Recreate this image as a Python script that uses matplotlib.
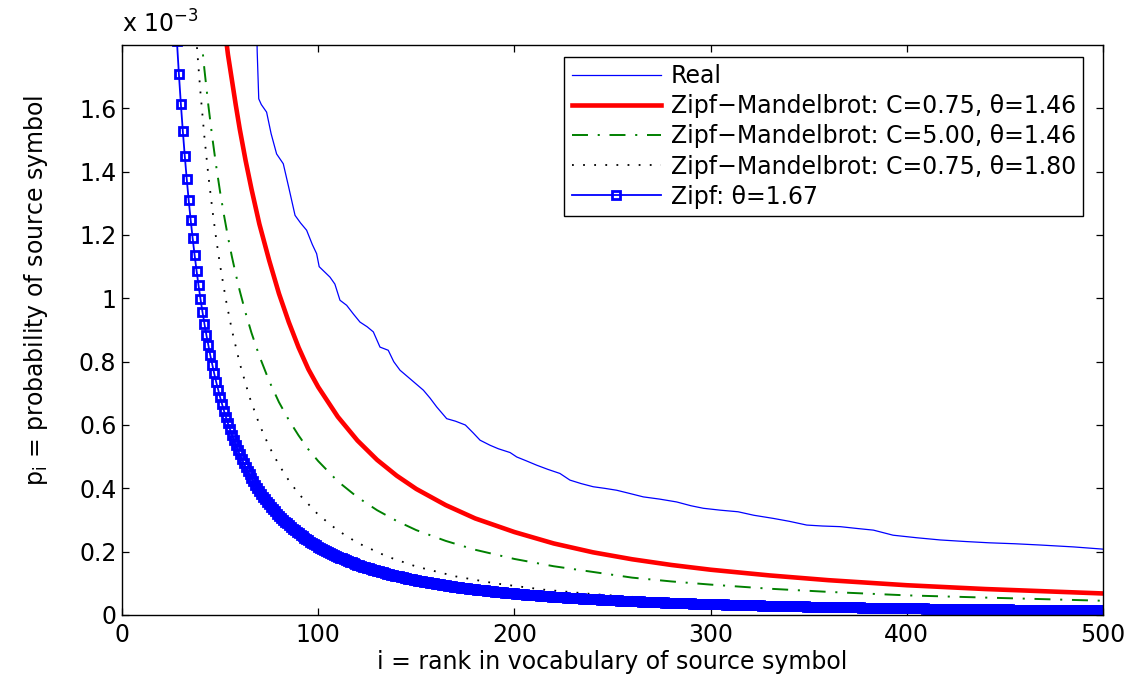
import matplotlib
matplotlib.use('Agg')
import matplotlib.pyplot as plt

plt.rcParams['font.family'] = ['DejaVu Sans']
plt.rcParams['mathtext.fontset'] = 'dejavusans'
plt.rcParams['lines.scale_dashes'] = False

# ---------------- data (probabilities in units of 1e-3) ----------------
real_rank = [68.4, 68.9, 69.7, 71.0, 73.7, 76.0, 78.8, 82.2, 85.0, 88.2,
             91.0, 94.1, 97.0, 99.2, 100.5, 103.0, 106.0, 108.5, 111.1, 114.5,
             118.0, 121.3, 125.0, 128.1, 131.5, 135.7, 138.5, 141.7, 147.0, 153.6,
             157.0, 160.4, 165.5, 170.0, 175.0, 179.0, 182.5, 187.6, 191.8, 197.8,
             201.2, 206.0, 211.4, 217.0, 223.2, 228.3, 234.0, 240.2, 246.0, 252.1,
             258.0, 265.7, 274.0, 282.7, 290.0, 296.3, 305.0, 314.0, 322.0, 332.0,
             340.0, 349.0, 357.0, 366.0, 375.0, 383.0, 393.0, 405.0, 417.0, 430.0,
             442.0, 455.0, 468.0, 485.0, 500.0]
real_p = [1.95, 1.78, 1.63, 1.612, 1.588, 1.52, 1.456, 1.425, 1.35, 1.262,
          1.238, 1.215, 1.17, 1.141, 1.10, 1.085, 1.067, 1.045, 0.994, 0.978,
          0.95, 0.925, 0.91, 0.894, 0.846, 0.836, 0.80, 0.773, 0.745, 0.710,
          0.685, 0.657, 0.620, 0.612, 0.600, 0.575, 0.552, 0.536, 0.525, 0.513,
          0.499, 0.487, 0.473, 0.460, 0.447, 0.426, 0.415, 0.405, 0.400, 0.394,
          0.385, 0.373, 0.366, 0.357, 0.345, 0.337, 0.331, 0.326, 0.315, 0.305,
          0.296, 0.284, 0.281, 0.279, 0.273, 0.268, 0.252, 0.244, 0.237, 0.232,
          0.228, 0.225, 0.221, 0.215, 0.208]

zm1_rank = [50, 52, 54, 56, 58, 60, 63, 66, 70, 75, 80, 85, 90, 95, 100, 110,
            120, 130, 140, 150, 165, 180, 200, 220, 240, 260, 280, 300, 330,
            360, 400, 440, 470, 500]
zm1_p = [1.981, 1.871, 1.770, 1.69, 1.61, 1.535, 1.435, 1.345, 1.235, 1.12,
         1.015, 0.925, 0.845, 0.776, 0.720, 0.626, 0.551, 0.490, 0.440, 0.398,
         0.347, 0.305, 0.262, 0.226, 0.198, 0.176, 0.158, 0.143, 0.125, 0.110,
         0.094, 0.082, 0.075, 0.068]

zm2_rank = [40, 42, 44, 46, 48, 50, 52, 54, 56, 58, 60, 63, 66, 70, 75, 80, 85,
            90, 95, 100, 110, 120, 130, 140, 150, 165, 180, 200, 220, 240, 260,
            280, 300, 330, 360, 400, 440, 470, 500]
zm2_p = [1.851, 1.723, 1.610, 1.509, 1.418, 1.336, 1.262, 1.194, 1.132, 1.076,
         1.024, 0.954, 0.891, 0.818, 0.739, 0.672, 0.616, 0.567, 0.523, 0.486,
         0.422, 0.372, 0.331, 0.297, 0.268, 0.234, 0.206, 0.177, 0.154, 0.136,
         0.118, 0.106, 0.096, 0.083, 0.073, 0.062, 0.055, 0.050, 0.045]

zm3_rank = [37, 38, 40, 42, 44, 46, 48, 50, 53, 56, 60, 65, 70, 75, 80, 85, 90,
            100, 110, 120, 135, 150, 170, 190, 215, 240, 270, 300, 340, 380,
            420, 460, 500]
zm3_p = [1.898, 1.809, 1.649, 1.510, 1.389, 1.283, 1.188, 1.104, 0.994, 0.900,
         0.795, 0.688, 0.602, 0.532, 0.474, 0.425, 0.383, 0.317, 0.267, 0.228,
         0.185, 0.153, 0.122, 0.100, 0.080, 0.066, 0.053, 0.044, 0.035, 0.029,
         0.024, 0.020, 0.018]

# Zipf, one value per rank starting at rank 27
zipf_p = [
    1.9246, 1.8111, 1.7080, 1.6140, 1.5280, 1.4491, 1.3764, 1.3094, 1.2477, 1.1904,
    1.1371, 1.0875, 1.0413, 0.9982,
    0.9579, 0.9201, 0.8847, 0.8514, 0.8200, 0.7905, 0.7627, 0.7362, 0.7114, 0.6878,
    0.6654, 0.6442, 0.6240, 0.6048, 0.5866, 0.5691, 0.5525, 0.5368, 0.5217, 0.5072,
    0.4934, 0.4802, 0.4675, 0.4553, 0.4437, 0.4325, 0.4219, 0.4115, 0.4016, 0.3921,
    0.3829, 0.3740, 0.3655, 0.3573, 0.3494, 0.3418, 0.3344, 0.3273, 0.3204, 0.3137,
    0.3073, 0.3010, 0.2950, 0.2892, 0.2835, 0.2780, 0.2727, 0.2676, 0.2626, 0.2577,
    0.2530, 0.2484, 0.2440, 0.2397, 0.2355, 0.2314, 0.2274, 0.2235, 0.2198, 0.2161,
    0.2125, 0.2091, 0.2057, 0.2024, 0.1992, 0.1961, 0.1930, 0.1900, 0.1871, 0.1843,
    0.1815, 0.1788, 0.1762, 0.1736, 0.1711, 0.1686, 0.1662, 0.1639, 0.1616, 0.1594,
    0.1572, 0.1551, 0.1529, 0.1509, 0.1489, 0.1469, 0.1450, 0.1431, 0.1412, 0.1395,
    0.1377, 0.1360, 0.1343, 0.1326, 0.1310, 0.1294, 0.1278, 0.1262, 0.1247, 0.1232,
    0.1217, 0.1203, 0.1189, 0.1175, 0.1162, 0.1148, 0.1135, 0.1122, 0.1110, 0.1098,
    0.1086, 0.1074, 0.1062, 0.1051, 0.1039, 0.1028, 0.1017, 0.1006, 0.0996, 0.0986,
    0.0976, 0.0966, 0.0956, 0.0946, 0.0936, 0.0927, 0.0917, 0.0908, 0.0899, 0.0891,
    0.0882, 0.0873, 0.0865, 0.0856, 0.0848, 0.0840, 0.0832, 0.0824, 0.0817, 0.0810,
    0.0802, 0.0795, 0.0788, 0.0781, 0.0774, 0.0767, 0.0760, 0.0753, 0.0746, 0.0740,
    0.0734, 0.0727, 0.0721, 0.0715, 0.0709, 0.0703, 0.0697, 0.0691, 0.0685, 0.0679,
    0.0673, 0.0668, 0.0662, 0.0657, 0.0652, 0.0646, 0.0641, 0.0636, 0.0631, 0.0626,
    0.0621, 0.0616, 0.0611, 0.0607, 0.0602, 0.0597, 0.0593, 0.0588, 0.0584, 0.0579,
    0.0575, 0.0571, 0.0566, 0.0562, 0.0558, 0.0554, 0.0550, 0.0546, 0.0542, 0.0538,
    0.0534, 0.0530, 0.0527, 0.0523, 0.0519, 0.0515, 0.0512, 0.0508, 0.0505, 0.0501,
    0.0498, 0.0494, 0.0491, 0.0488, 0.0484, 0.0481, 0.0478, 0.0475, 0.0471, 0.0468,
    0.0465, 0.0462, 0.0459, 0.0456, 0.0453, 0.0450, 0.0447, 0.0444, 0.0441, 0.0438,
    0.0435, 0.0433, 0.0430, 0.0427, 0.0424, 0.0422, 0.0419, 0.0416, 0.0414, 0.0411,
    0.0409, 0.0406, 0.0404, 0.0401, 0.0399, 0.0397, 0.0394, 0.0392, 0.0389, 0.0387,
    0.0385, 0.0383, 0.0380, 0.0378, 0.0376, 0.0374, 0.0372, 0.0369, 0.0367, 0.0365,
    0.0363, 0.0361, 0.0359, 0.0357, 0.0355, 0.0353, 0.0351, 0.0349, 0.0347, 0.0345,
    0.0343, 0.0341, 0.0340, 0.0338, 0.0336, 0.0334, 0.0332, 0.0331, 0.0329, 0.0327,
    0.0325, 0.0324, 0.0322, 0.0320, 0.0318, 0.0317, 0.0315, 0.0313, 0.0312, 0.0310,
    0.0308, 0.0307, 0.0305, 0.0304, 0.0302, 0.0300, 0.0299, 0.0297, 0.0296, 0.0294,
    0.0293, 0.0291, 0.0290, 0.0288, 0.0287, 0.0286, 0.0284, 0.0283, 0.0281, 0.0280,
    0.0279, 0.0277, 0.0276, 0.0275, 0.0273, 0.0272, 0.0271, 0.0269, 0.0268, 0.0267,
    0.0266, 0.0264, 0.0263, 0.0262, 0.0261, 0.0260, 0.0258, 0.0257, 0.0256, 0.0255,
    0.0254, 0.0253, 0.0251, 0.0250, 0.0249, 0.0248, 0.0247, 0.0245, 0.0244, 0.0243,
    0.0242, 0.0241, 0.0240, 0.0239, 0.0238, 0.0237, 0.0236, 0.0235, 0.0234, 0.0233,
    0.0232, 0.0231, 0.0230, 0.0229, 0.0228, 0.0227, 0.0226, 0.0225, 0.0224, 0.0223,
    0.0222, 0.0221, 0.0220, 0.0219, 0.0218, 0.0217, 0.0216, 0.0215, 0.0214, 0.0213,
    0.0212, 0.0211, 0.0211, 0.0210, 0.0209, 0.0208, 0.0207, 0.0207, 0.0206, 0.0205,
    0.0204, 0.0203, 0.0203, 0.0202, 0.0201, 0.0200, 0.0199, 0.0199, 0.0198, 0.0197,
    0.0196, 0.0195, 0.0195, 0.0194, 0.0193, 0.0192, 0.0191, 0.0191, 0.0190, 0.0189,
    0.0188, 0.0188, 0.0187, 0.0186, 0.0186, 0.0185, 0.0184, 0.0183, 0.0183, 0.0182,
    0.0181, 0.0181, 0.0180, 0.0179, 0.0179, 0.0178, 0.0177, 0.0177, 0.0176, 0.0175,
    0.0174, 0.0174, 0.0173, 0.0173, 0.0172, 0.0171, 0.0171, 0.0170, 0.0170, 0.0169,
    0.0168, 0.0168, 0.0167, 0.0167, 0.0166, 0.0165, 0.0165, 0.0164, 0.0164, 0.0163,
    0.0162, 0.0162, 0.0161, 0.0161, 0.0160, 0.0160, 0.0159, 0.0158, 0.0158, 0.0157,
    0.0157, 0.0156, 0.0156, 0.0155, 0.0155, 0.0154, 0.0154, 0.0153, 0.0153, 0.0152,
    0.0151, 0.0151, 0.0150, 0.0150, 0.0149, 0.0149, 0.0148, 0.0148, 0.0147, 0.0147,
]
zipf_rank = list(range(27, 27 + len(zipf_p)))

labels = ['Real',
          'Zipf\u2212Mandelbrot: C=0.75, \u03b8=1.46',
          'Zipf\u2212Mandelbrot: C=5.00, \u03b8=1.46',
          'Zipf\u2212Mandelbrot: C=0.75, \u03b8=1.80',
          'Zipf: \u03b8=1.67']

x_ticks = [0, 100, 200, 300, 400, 500]
y_ticks = [0, 0.2, 0.4, 0.6, 0.8, 1.0, 1.2, 1.4, 1.6]
y_tick_labels = ['0', '0.2', '0.4', '0.6', '0.8', '1', '1.2', '1.4', '1.6']

# ---------------- figure ----------------
W, H = 1131, 677
fig = plt.figure(figsize=(W / 100, H / 100), dpi=100)
ax = fig.add_axes([122 / W, (H - 615) / H, 981 / W, 570 / H])

FS = 17
ax.plot(real_rank, real_p, color='#0000ff', lw=0.9, label=labels[0])
ax.plot(zm1_rank, zm1_p, color='#ff0000', lw=3.3, label=labels[1])
ax.plot(zm2_rank, zm2_p, color='#008000', lw=1.4, dashes=(11.5, 7.0, 1.5, 7.0),
        label=labels[2])
ax.plot(zm3_rank, zm3_p, color='black', lw=1.3, dashes=(1.3, 6.7), label=labels[3])
ax.plot(zipf_rank, zipf_p, color='#0000ff', lw=1.3, marker='s', ms=5.6,
        mfc='none', mec='#0000ff', mew=2.0, label=labels[4])

ax.set_xlim(0, 500)
ax.set_ylim(0, 1.8)
ax.set_xticks(x_ticks)
ax.set_xticklabels([str(t) for t in x_ticks])
ax.set_yticks(y_ticks)
ax.set_yticklabels(y_tick_labels)
ax.tick_params(direction='in', length=5, width=0.9, top=True, right=True,
               labelsize=FS, colors='black')
ax.tick_params(axis='x', pad=6)
ax.tick_params(axis='y', pad=4)
for s in ax.spines.values():
    s.set_linewidth(1.0)
    s.set_color('black')

ax.set_xlabel('i = rank in vocabulary of source symbol', fontsize=FS)
ax.xaxis.set_label_coords(0.5, -0.062)
ax.set_ylabel(r'p$_\mathregular{i}$ = probability of source symbol', fontsize=FS)
ax.yaxis.set_label_coords(-0.073, 0.57)

fig.text(122 / W, 1 - 33 / H, r'x 10$^{-3}$', fontsize=FS, ha='left', va='baseline')

leg = ax.legend(loc='upper right', bbox_to_anchor=(1083 / W, 1 - 57 / H),
                bbox_transform=fig.transFigure, borderaxespad=0, fontsize=FS,
                frameon=True, fancybox=False, framealpha=1, edgecolor='black',
                handlelength=3.8, handletextpad=0.4, borderpad=0.3,
                labelspacing=0.26)
leg.get_frame().set_linewidth(1.0)

fig.savefig('out.png', dpi=100)
